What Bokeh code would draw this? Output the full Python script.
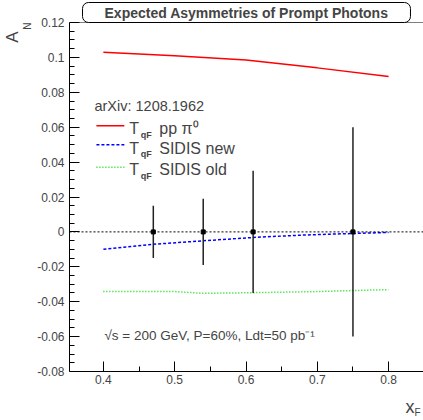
import math
from bokeh.plotting import figure
from bokeh.models import Range1d, FixedTicker, Span, Label, Title
from bokeh.embed import file_html
from bokeh.resources import INLINE

# ---- data ----
pp_x = [0.40, 0.50, 0.60, 0.70, 0.80]
pp_y = [0.1030, 0.1009, 0.0985, 0.0940, 0.0890]
new_x = [0.40, 0.47, 0.54, 0.61, 0.68, 0.75, 0.80]
new_y = [-0.0099, -0.0071, -0.0051, -0.0032, -0.0018, -0.0009, -0.0003]
old_x = [0.40, 0.50, 0.54, 0.60, 0.70, 0.75, 0.80]
old_y = [-0.0342, -0.0342, -0.0352, -0.0349, -0.0342, -0.0336, -0.0331]
pts_x = [0.47, 0.54, 0.61, 0.75]
pts_y = [0.0, 0.0, 0.0, 0.0]
pts_err = [0.015, 0.019, 0.035, 0.060]

x_major = [0.4, 0.5, 0.6, 0.7, 0.8]
x_minor = [0.45, 0.55, 0.65, 0.75]
x_labels = ["0.4", "0.5", "0.6", "0.7", "0.8"]
y_major = [-0.08, -0.06, -0.04, -0.02, 0.0, 0.02, 0.04, 0.06, 0.08, 0.1, 0.12]
y_labels = ["-0.08", "-0.06", "-0.04", "-0.02", "0", "0.02", "0.04", "0.06", "0.08", "0.1", "0.12"]
y_minor = [-0.075, -0.07, -0.065, -0.055, -0.05, -0.045, -0.035, -0.03, -0.025,
           -0.015, -0.01, -0.005, 0.005, 0.01, 0.015, 0.025, 0.03, 0.035,
           0.045, 0.05, 0.055, 0.065, 0.07, 0.075, 0.085, 0.09, 0.095,
           0.105, 0.11, 0.115]

title_text = "Expected Asymmetries of Prompt Photons"
ref_text = "arXiv: 1208.1962"
leg_texts = ["pp \u03c0\u2070", "SIDIS new", "SIDIS old"]
leg_colors = ["#ff0000", "#0000ff", "#00dd00"]
leg_dash = ["solid", "3 2", "1 2"]
info_text = "\u221as = 200 GeV, P=60%, Ldt=50 pb\u207b\u00b9"

FONT = "Liberation Sans"

# ---- layout ----
W, H = 423, 420
BL, BR, BT, BB = 68, 0, 22, 49
FW, FH = W - BL - BR, H - BT - BB
XR0, XR1 = 0.35245, 0.84895
YR0, YR1 = -0.08, 0.12


def dx(px):
    return XR0 + (px - BL) * (XR1 - XR0) / FW


def dy(py):
    return YR1 - (py - BT) * (YR1 - YR0) / FH


p = figure(width=W, height=H, output_backend="svg", toolbar_location=None,
           x_range=Range1d(XR0, XR1), y_range=Range1d(YR0, YR1),
           min_border_left=BL, min_border_right=BR, min_border_top=BT,
           min_border_bottom=BB)
p.outline_line_color = None
p.background_fill_color = "white"
p.border_fill_color = "white"
p.xgrid.visible = False
p.ygrid.visible = False

# title box
p.title.text = title_text
p.title.text_font = FONT
p.title.text_font_size = "14px"
p.title.text_font_style = "bold"
p.title.align = "center"
p.title.standoff = 0
p.title.border_line_color = "black"
p.title.border_line_width = 1
p.title.background_fill_color = "white"
p.title.padding = dict(left=22, right=22, top=2, bottom=2)
p.title.border_radius = 6

for ax, maj, mn, labs, st in ((p.xaxis, x_major, x_minor, x_labels, 3),
                               (p.yaxis, y_major, y_minor, y_labels, 5)):
    ax.ticker = FixedTicker(ticks=maj, minor_ticks=mn)
    ax.major_label_overrides = {v: l for v, l in zip(maj, labs)}
    ax.major_tick_in = 10
    ax.major_tick_out = 0
    ax.minor_tick_in = 5
    ax.minor_tick_out = 0
    ax.axis_line_color = "black"
    ax.major_tick_line_color = "black"
    ax.minor_tick_line_color = "black"
    ax.major_label_text_font = FONT
    ax.major_label_text_font_size = "12px"
    ax.major_label_text_color = "#444444"
    ax.major_label_standoff = st

# axis titles (side-panel titles are not clipped)
p.add_layout(Title(text="N", text_font=FONT, text_font_size="10px", align="right",
                   vertical_align="top", offset=0, standoff=0,
                   text_font_style="normal"), "left")
p.add_layout(Title(text="A", text_font=FONT, text_font_size="17px", align="right",
                   offset=9, standoff=0, text_font_style="normal"), "left")
# x_F: zero-height panels, pushed down by a negative standoff
p.add_layout(Title(text="x", text_font=FONT, text_font_size="18px", align="right",
                   vertical_align="bottom", offset=9, standoff=-60,
                   text_font_style="normal"), "below")
p.add_layout(Title(text="F", text_font=FONT, text_font_size="10px", align="right",
                   vertical_align="bottom", offset=3, standoff=-62,
                   text_font_style="normal"), "below")

# frame top line and zero line
p.add_layout(Span(location=YR1, dimension="width", line_color="black", line_width=1))
p.add_layout(Span(location=0, dimension="width", line_color="black", line_width=1,
                  line_dash="2 2"))

# theory curves
p.line(pp_x, pp_y, line_color=leg_colors[0], line_width=1.5)
p.line(new_x, new_y, line_color=leg_colors[1], line_width=1.5, line_dash=leg_dash[1])
p.line(old_x, old_y, line_color=leg_colors[2], line_width=1.5, line_dash=leg_dash[2])

# projected points with errors
p.segment(x0=pts_x, y0=[y - e for y, e in zip(pts_y, pts_err)],
          x1=pts_x, y1=[y + e for y, e in zip(pts_y, pts_err)],
          line_color="#222222", line_width=1.5)
p.scatter(pts_x, pts_y, marker="square", size=4, color="black")

# legend
p.add_layout(Label(x=dx(93), y=dy(105), text=ref_text, text_font=FONT,
                   text_font_size="14.5px", text_baseline="middle"))
line_y = [125.3, 144.3, 166.7]
base_y = [128.3, 147.7, 169.0]
for ly, by, txt, col, dash in zip(line_y, base_y, leg_texts, leg_colors, leg_dash):
    p.line([dx(95), dx(123)], [dy(ly), dy(ly)], line_color=col, line_width=1.5,
           line_dash=dash)
    p.add_layout(Label(x=dx(128), y=dy(by), text="T", text_font=FONT,
                       text_font_size="16px", text_baseline="alphabetic"))
    p.add_layout(Label(x=dx(139.5), y=dy(by + 6), text="qF", text_font=FONT,
                       text_font_size="9px", text_font_style="bold",
                       text_baseline="alphabetic"))
    p.add_layout(Label(x=dx(158), y=dy(by), text=txt, text_font=FONT,
                       text_font_size="16px", text_baseline="alphabetic"))

p.add_layout(Label(x=dx(103), y=dy(335), text=info_text, text_font=FONT,
                   text_font_size="13.5px", text_baseline="middle"))

open("out.html", "w").write(file_html(p, INLINE))
